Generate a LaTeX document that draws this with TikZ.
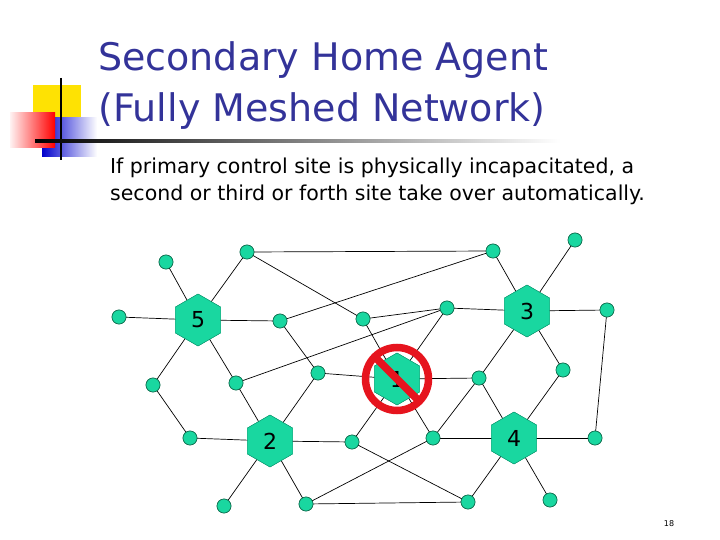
\documentclass[tikz,border=0pt]{standalone}
\usepackage{fontspec}
\setmainfont{DejaVu Sans}
\usetikzlibrary{shapes.geometric,calc}
\definecolor{ttl}{RGB}{51,51,153}
\definecolor{tl}{RGB}{25,215,160}
\definecolor{tld}{RGB}{20,110,80}
\definecolor{rd}{RGB}{230,20,30}
\begin{document}
\begin{tikzpicture}[x=1pt,y=-1pt,
  sn/.style={circle,fill=tl,draw=tld,line width=0.6pt,minimum size=14pt,inner sep=0},
  hx/.style={regular polygon,regular polygon sides=6,shape border rotate=30,fill=tl,draw=tl!70!black,line width=0.4pt,minimum size=52pt,inner sep=0,font=\fontsize{22}{22}\selectfont},
  ln/.style={line width=0.7pt}]
\useasboundingbox (0,0) rectangle (720,540);
% decoration
\fill[yellow!85!orange] (33,85) rectangle (81,118);
\shade[left color=blue!80!black, right color=white] (42,118) rectangle (97,157);
\shade[left color=red!5, right color=red] (10,113) rectangle (55,148);
\draw[line width=1.5pt] (61,78) -- (61,160);
\shade[left color=black,right color=white] (35,140) rectangle (560,142.5);
% text
\node[anchor=west,text=ttl,font=\fontsize{38}{38}\selectfont,inner sep=0] (t1) at (98,60) {Secondary Home Agent};
\node[anchor=west,text=ttl,font=\fontsize{38}{38}\selectfont,inner sep=0] (t2) at (98,111) {(Fully Meshed Network)};
\node[anchor=west,align=left,inner sep=0,font=\fontsize{20.5}{27}\selectfont] (bd) at (110,181) {If primary control site is physically incapacitated, a\\second or third or forth site take over automatically.};
\node[font=\fontsize{8}{8}\selectfont] (pg) at (669,524) {18};
% nodes
\node[hx] (H5) at (198,320) {5};
\node[hx] (H3) at (527,311) {3};
\node[hx] (H1) at (397,379) {1};
\node[hx] (H2) at (270,441) {2};
\node[hx] (H4) at (514,438) {4};
\foreach \n/\x/\y in {a/247/252,b/493/251,c/575/240,d/166/262,e/119/317,f/280/321,g/363/319,h/447/308,i/607/310,j/153/385,k/236/383,l/318/373,m/479/378,n/563/370,o/190/438,p/352/442,q/433/438,r/595/438,s/224/506,t/306/504,u/468/502,v/550/500}
  \node[sn] (\n) at (\x,\y) {};
% edges
\foreach \u/\w in {a/b,a/H5,a/g,b/f,b/H3,c/H3,d/H5,e/H5,H5/f,H5/j,H5/k,f/l,g/h,g/H1,k/h,h/H1,h/H3,H3/i,H3/m,H3/n,i/r,j/o,o/H2,k/H2,H2/l,H2/p,H2/s,H2/t,l/H1,H1/m,H1/p,H1/q,m/q,m/H4,n/H4,q/H4,H4/r,H4/u,H4/v,t/q,t/u,p/u}
  \draw[ln] (\u.center) -- (\w.center);
% redraw nodes on top
\node[hx] at (H5) {5};
\node[hx] at (H3) {3};
\node[hx] at (H1) {1};
\node[hx] at (H2) {2};
\node[hx] at (H4) {4};
\foreach \n in {a,b,c,d,e,f,g,h,i,j,k,l,m,n,o,p,q,r,s,t,u,v}
  \node[sn] at (\n) {};
% forbidden sign
\draw[rd,line width=7.5pt] (H1) circle (31.5);
\draw[rd,line width=7.5pt] ($(H1)+(-22,-22)$) -- ($(H1)+(22,22)$);
\end{tikzpicture}
\end{document}
